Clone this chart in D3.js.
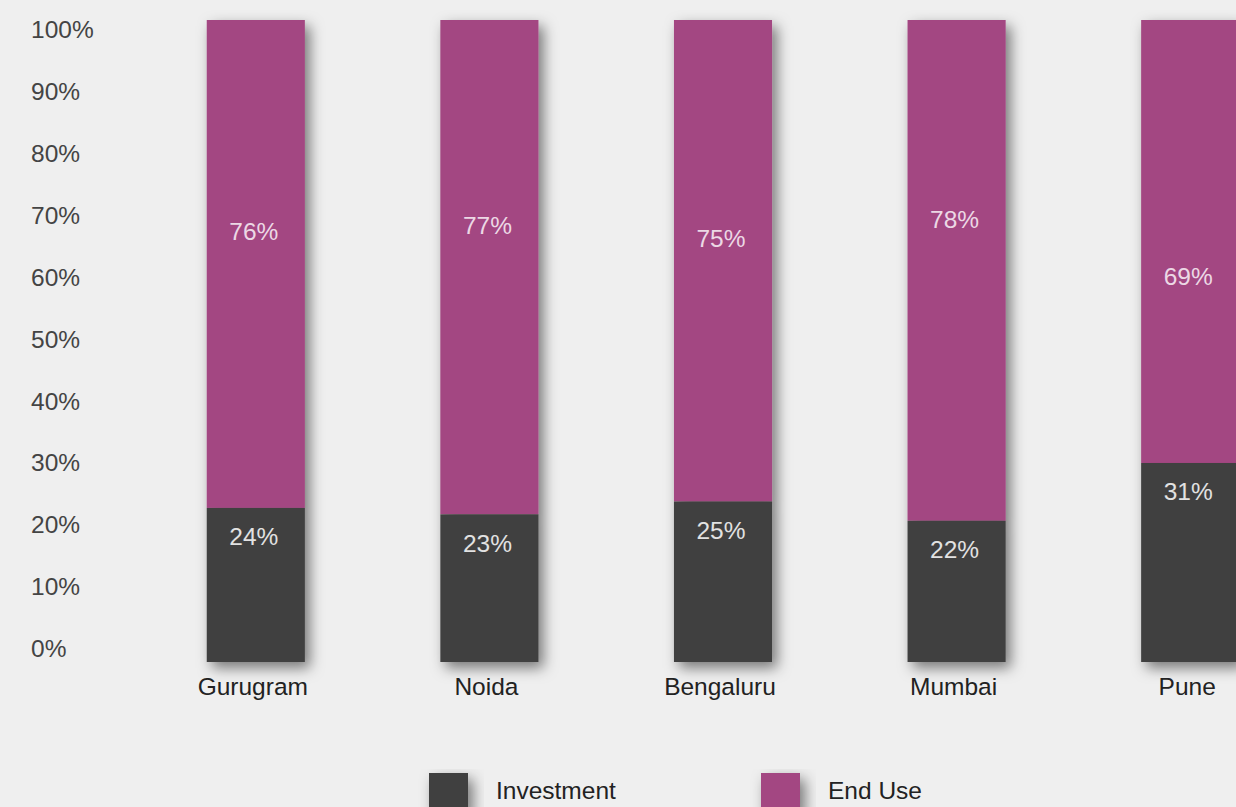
<!DOCTYPE html>
<html>
<head>
<meta charset="utf-8">
<script src="https://cdn.jsdelivr.net/npm/d3@7"></script>
<style>
  html, body { margin: 0; padding: 0; background: #efefef; overflow: hidden; }
  svg { display: block; font-family: "Liberation Sans", Arial, sans-serif; }
</style>
</head>
<body>
<div id="chart"></div>
<script>
// dades llegides del gràfic
const ciutats = ["Gurugram", "Noida", "Bengaluru", "Mumbai", "Pune"];
const inversio = [24, 23, 25, 22, 31];
const usFinal = [76, 77, 75, 78, 69];
const etiquetesEix = ["0%", "10%", "20%", "30%", "40%", "50%", "60%", "70%", "80%", "90%", "100%"];
const series = ["Investment", "End Use"];
const colors = ["#414141", "#a34782"];

const ample = 1236;
const alt = 807;

const svg = d3.select("#chart")
  .append("svg")
  .attr("width", ample)
  .attr("height", alt);

// ombra de les barres
const defs = svg.append("defs");
const filtre = defs.append("filter")
  .attr("id", "ombra")
  .attr("x", "-40%").attr("y", "-10%")
  .attr("width", "180%").attr("height", "130%");
filtre.append("feDropShadow")
  .attr("dx", 5).attr("dy", 6)
  .attr("stdDeviation", 7)
  .attr("flood-color", "#000")
  .attr("flood-opacity", 0.5);

// escales
const escalaX = d3.scaleBand()
  .domain(ciutats)
  .range([139, 1307])
  .paddingInner(0.58)
  .paddingOuter(0.29);

const escalaY = d3.scaleLinear()
  .domain([0, 100])
  .range([662, 20]);

const escalaEix = d3.scaleLinear()
  .domain([0, 100])
  .range([648.5, 29.7]);

// etiquetes de l'eix Y
svg.selectAll(".tick")
  .data(etiquetesEix)
  .enter()
  .append("text")
  .attr("class", "tick")
  .attr("x", 31)
  .attr("y", (d, i) => escalaEix(i * 10))
  .attr("dy", "0.35em")
  .attr("font-size", 24.5)
  .attr("fill", "#444")
  .text(d => d);

const dades = ciutats.map((c, i) => ({ nom: c, inv: inversio[i], fin: usFinal[i] }));

// barres apilades
const grups = svg.selectAll(".barra")
  .data(dades)
  .enter()
  .append("g")
  .attr("class", "barra")
  .attr("filter", "url(#ombra)");

grups.append("rect")
  .attr("x", d => escalaX(d.nom))
  .attr("width", escalaX.bandwidth())
  .attr("y", d => escalaY(d.inv + d.fin))
  .attr("height", d => escalaY(d.inv) - escalaY(d.inv + d.fin))
  .attr("fill", colors[1]);

grups.append("rect")
  .attr("x", d => escalaX(d.nom))
  .attr("width", escalaX.bandwidth())
  .attr("y", d => escalaY(d.inv))
  .attr("height", d => escalaY(0) - escalaY(d.inv))
  .attr("fill", colors[0]);

// valors dins de les barres
svg.selectAll(".valorFin")
  .data(dades)
  .enter()
  .append("text")
  .attr("class", "valorFin")
  .attr("x", d => escalaX(d.nom) + escalaX.bandwidth() / 2 - 2)
  .attr("y", d => escalaY(d.fin - 9))
  .attr("dy", "0.35em")
  .attr("text-anchor", "middle")
  .attr("font-size", 24.5)
  .attr("fill", "#ecd8e5")
  .text(d => d.fin + "%");

svg.selectAll(".valorInv")
  .data(dades)
  .enter()
  .append("text")
  .attr("class", "valorInv")
  .attr("x", d => escalaX(d.nom) + escalaX.bandwidth() / 2 - 2)
  .attr("y", d => escalaY(d.inv - 4.5))
  .attr("dy", "0.35em")
  .attr("text-anchor", "middle")
  .attr("font-size", 24.5)
  .attr("fill", "#e2e2e2")
  .text(d => d.inv + "%");

// noms de les ciutats
svg.selectAll(".nom")
  .data(dades)
  .enter()
  .append("text")
  .attr("class", "nom")
  .attr("x", d => escalaX(d.nom) + escalaX.bandwidth() / 2 - 3)
  .attr("y", 686)
  .attr("dy", "0.35em")
  .attr("text-anchor", "middle")
  .attr("font-size", 24.5)
  .attr("fill", "#222")
  .text(d => d.nom);

// llegenda
const llegenda = svg.selectAll(".llegenda")
  .data(series)
  .enter()
  .append("g")
  .attr("class", "llegenda")
  .attr("transform", (d, i) => `translate(${429 + i * 332}, 773)`);

llegenda.append("rect")
  .attr("width", 39)
  .attr("height", 40)
  .attr("fill", (d, i) => colors[i])
  .attr("filter", "url(#ombra)");

llegenda.append("text")
  .attr("x", 67)
  .attr("y", 17)
  .attr("dy", "0.35em")
  .attr("font-size", 24.5)
  .attr("fill", "#222")
  .text(d => d);
</script>
</body>
</html>
